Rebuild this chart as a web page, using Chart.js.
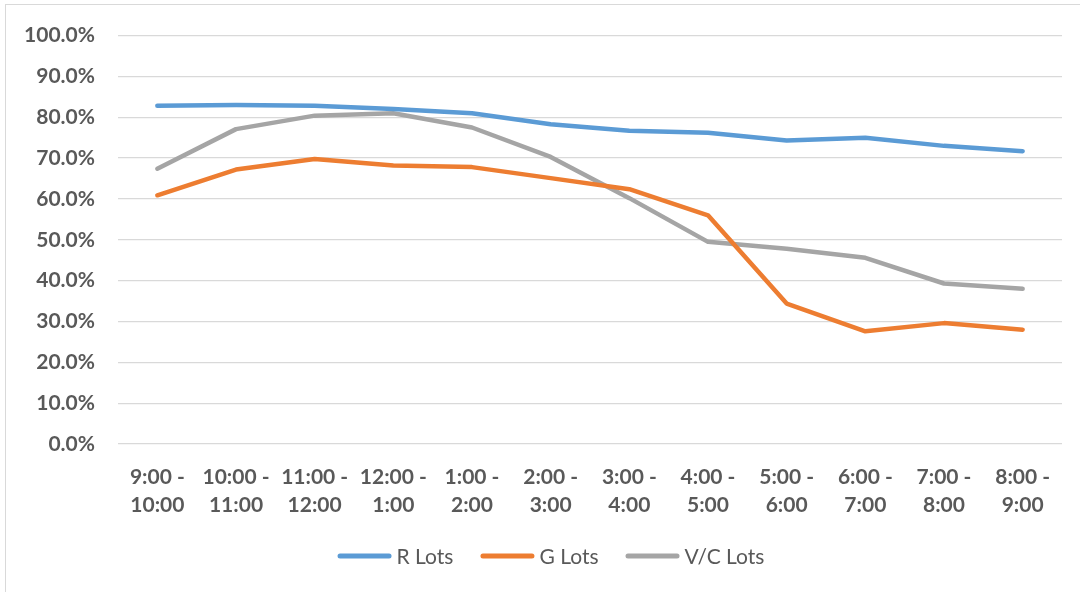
<!DOCTYPE html>
<html>
<head>
<meta charset="utf-8">
<script src="https://cdn.jsdelivr.net/npm/chart.js@4"></script>
<style>
  html,body{margin:0;padding:0;background:#fff;}
  #wrap{position:absolute;left:0;top:0;width:1080px;height:592px;}
  #frame{position:absolute;left:5px;top:4px;width:1100px;height:620px;border:1.5px solid #d9d9d9;box-sizing:border-box;}
  canvas{position:absolute;left:0;top:0;}
</style>
</head>
<body>
<div id="wrap">
  <div id="frame"></div>
  <canvas id="c" width="1080" height="592"></canvas>
</div>
<script>
const categories = [
  ['9:00 -','10:00'], ['10:00 -','11:00'], ['11:00 -','12:00'], ['12:00 -','1:00'],
  ['1:00 -','2:00'], ['2:00 -','3:00'], ['3:00 -','4:00'], ['4:00 -','5:00'],
  ['5:00 -','6:00'], ['6:00 -','7:00'], ['7:00 -','8:00'], ['8:00 -','9:00']
];
const rLots  = [82.8, 83.0, 82.8, 82.0, 81.0, 78.3, 76.7, 76.2, 74.3, 75.0, 73.0, 71.7];
const gLots  = [60.9, 67.2, 69.8, 68.2, 67.8, 65.1, 62.4, 56.0, 34.4, 27.6, 29.6, 28.0];
const vcLots = [67.4, 77.1, 80.4, 81.0, 77.5, 70.3, 60.2, 49.5, 47.8, 45.6, 39.3, 38.0];
const yTicks = [0,10,20,30,40,50,60,70,80,90,100];

const mk = (label, data, color) => ({
  label, data, borderColor: color, backgroundColor: color,
  borderWidth: 4.5, pointRadius: 0, tension: 0,
  borderCapStyle: 'round', borderJoinStyle: 'round', fill: false
});

// Legend drawn from the chart's datasets (line swatch + label)
const lineLegend = {
  id: 'lineLegend',
  afterDraw(chart) {
    const ctx = chart.ctx;
    const font = '21px Lato';
    const sw = 54, gapText = 5, gapItem = 27, cy = 556, cx = 551;
    ctx.save();
    ctx.font = font;
    const items = chart.data.datasets.map(d => ({ d, w: ctx.measureText(d.label).width }));
    const total = items.reduce((s, it) => s + sw + gapText + it.w, 0) + gapItem * (items.length - 1);
    let x = cx - total / 2;
    items.forEach(it => {
      ctx.strokeStyle = it.d.borderColor;
      ctx.lineWidth = 5;
      ctx.lineCap = 'round';
      ctx.beginPath();
      ctx.moveTo(x + 2.5, cy);
      ctx.lineTo(x + sw - 2.5, cy);
      ctx.stroke();
      ctx.fillStyle = '#595959';
      ctx.textBaseline = 'middle';
      ctx.textAlign = 'left';
      ctx.fillText(it.d.label, x + sw + gapText, cy + 1);
      x += sw + gapText + it.w + gapItem;
    });
    ctx.restore();
  }
};

new Chart(document.getElementById('c'), {
  type: 'line',
  data: {
    labels: categories,
    datasets: [
      mk('R Lots', rLots, '#5B9BD5'),
      mk('G Lots', gLots, '#ED7D31'),
      mk('V/C Lots', vcLots, '#A5A5A5')
    ]
  },
  plugins: [lineLegend],
  options: {
    responsive: false,
    animation: false,
    devicePixelRatio: 1,
    layout: { padding: { left: 0, right: 18, top: 22, bottom: 48 } },
    plugins: {
      tooltip: { enabled: false },
      legend: { display: false }
    },
    scales: {
      x: {
        type: 'category',
        offset: true,
        grid: { display: false, drawTicks: false },
        border: { display: false },
        afterFit(scale) { scale.height = 100; },
        ticks: {
          color: '#595959', padding: 19, maxRotation: 0, autoSkip: false,
          font: { family: 'Lato', size: 21, weight: 'bold', lineHeight: 1.333 }
        }
      },
      y: {
        min: 0, max: 100,
        afterBuildTicks(scale) { scale.ticks = yTicks.map(v => ({ value: v })); },
        afterFit(scale) { scale.width = 118; },
        grid: { color: '#d9d9d9', lineWidth: 1.3, drawTicks: false },
        border: { display: false },
        ticks: {
          color: '#595959', padding: 23,
          font: { family: 'Lato', size: 21, weight: 'bold' },
          callback: v => v.toFixed(1) + '%'
        }
      }
    }
  }
});
</script>
</body>
</html>
